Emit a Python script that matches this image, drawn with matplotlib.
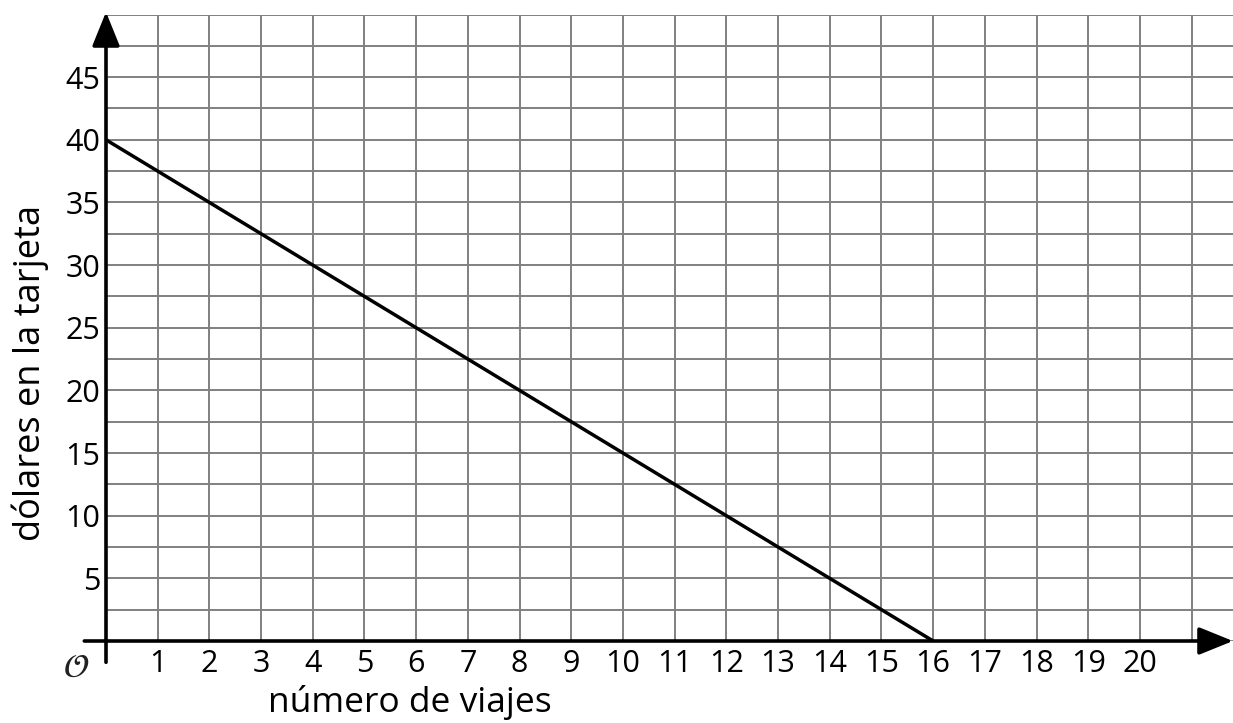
import matplotlib
matplotlib.use("Agg")
import matplotlib.pyplot as plt
import numpy as np

plt.rcParams['font.family'] = ['Open Sans', 'DejaVu Sans']

# data
trips = [0, 16]
dollars = [40, 0]
x_labels = list(range(1, 21))
y_labels = [5, 10, 15, 20, 25, 30, 35, 40, 45]
x_grid = np.arange(0, 22, 1)
y_grid = np.arange(0, 50.1, 2.5)

W, H = 1233, 723
fig = plt.figure(figsize=(W / 100, H / 100), dpi=100)

# axes box = grid area, pixel coords
left, right, bottom, top = 106, 1233, 641, 14.5
ax = fig.add_axes([left / W, (H - bottom) / H, (right - left) / W, (bottom - top) / H])
ax.set_xlim(0, 21.8)
ax.set_ylim(0, 50)

for s in ax.spines.values():
    s.set_visible(False)

ax.xaxis.remove_overlapping_locs = False
ax.yaxis.remove_overlapping_locs = False
ax.set_xticks(x_grid, minor=True)
ax.set_yticks(y_grid, minor=True)
ax.set_xticks(x_labels)
ax.set_xticklabels([str(v) for v in x_labels], fontsize=22)
ax.set_yticks(y_labels)
ax.set_yticklabels([str(v) for v in y_labels], fontsize=22)
ax.tick_params(which='both', length=0)
ax.tick_params(axis='x', pad=6)
ax.tick_params(axis='y', pad=4)
ax.grid(which='minor', color='#808080', lw=1.4)
ax.grid(which='major', visible=False)
ax.set_axisbelow(True)

# axes with arrows
arrow = dict(arrowstyle='-|>,head_length=2.1,head_width=0.85',
             color='black', lw=2.6, shrinkA=0, shrinkB=0)
ax.annotate('', xy=(0, 50.2), xytext=(0, -1.7), xycoords='data',
            arrowprops=arrow, annotation_clip=False)
ax.annotate('', xy=(21.8, 0), xytext=(-0.42, 0), xycoords='data',
            arrowprops=arrow, annotation_clip=False)

ax.plot(trips, dollars, color='black', lw=2.5, solid_capstyle='butt')

ax.text(-0.58, -2.2, r'$\mathcal{O}$', fontsize=24, ha='center', va='center',
        color='#222222')

fig.text(410 / W, 1 - 703 / H, 'número de viajes', fontsize=25.5,
         ha='center', va='center')
fig.text(30 / W, 1 - 373 / H, 'dólares en la tarjeta', fontsize=26,
         ha='center', va='center', rotation=90)

fig.savefig('out.png', dpi=100)
